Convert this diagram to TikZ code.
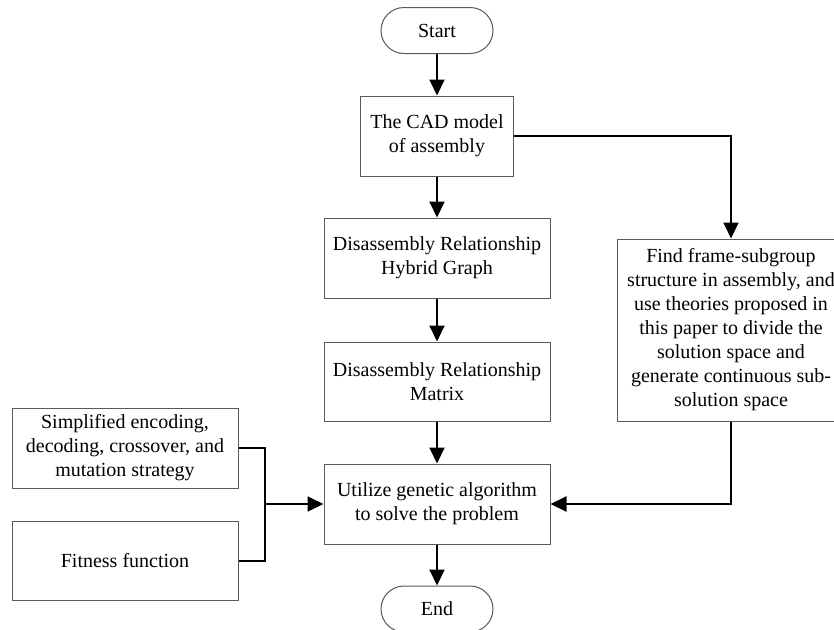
\documentclass[tikz,border=0pt]{standalone}
\usepackage{fontspec}
\setmainfont{Liberation Serif}
\usetikzlibrary{shapes.misc,arrows.meta}
\begin{document}
\begin{tikzpicture}[x=1pt,y=-1pt,
  every node/.style={font=\fontsize{20}{24}\selectfont, align=center, inner sep=0pt},
  box/.style={draw=black!65, line width=1pt, rectangle, minimum width=#1},
  box/.default=226,
  term/.style={draw=black!65, line width=1pt, rounded rectangle, minimum width=112, minimum height=46},
  conn/.style={line width=2pt, -{Triangle[length=16pt,width=15pt]}},
  plain/.style={line width=2pt}
]
\fill[white] (0,0) rectangle (834,629);
\clip (0,0) rectangle (834,629);
\node[term] (start) at (437,30.5) {Start};
\node[box=153, minimum height=80] (cad) at (437,136) {The CAD model\\of assembly};
\node[box, minimum height=80] (drhg) at (437,258) {Disassembly Relationship\\Hybrid Graph};
\node[box, minimum height=79] (drm) at (437,381.5) {Disassembly Relationship\\Matrix};
\node[box, minimum height=80] (ga) at (437,504) {Utilize genetic algorithm\\to solve the problem};
\node[term] (end) at (437,609) {End};
\node[box, minimum height=80] (simp) at (125,448) {Simplified encoding,\\decoding, crossover, and\\mutation strategy};
\node[box, minimum height=79] (fit) at (125,560.5) {Fitness function};
\node[box=228, minimum height=182] (find) at (731,330) {Find frame-subgroup\\structure in assembly, and\\use theories proposed in\\this paper to divide the\\solution space and\\generate continuous sub-\\solution space};
\coordinate (j) at (265,504);
\draw[conn] (start) -- (cad);
\draw[conn] (cad) -- (drhg);
\draw[conn] (drhg) -- (drm);
\draw[conn] (drm) -- (ga);
\draw[conn] (ga) -- (end);
\draw[conn] (cad.east) -| (find.north);
\draw[conn] (find.south) |- (ga.east);
\draw[plain] (simp.east) -| (j) |- (fit.east);
\draw[conn] (j) -- (ga.west);
\end{tikzpicture}
\end{document}
